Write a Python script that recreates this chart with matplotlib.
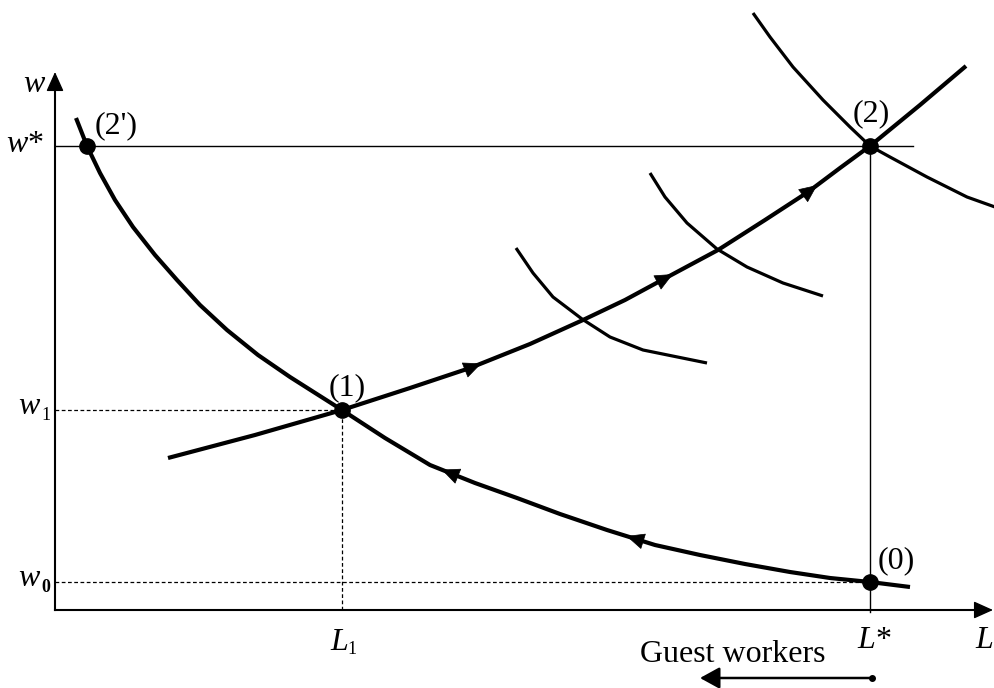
import numpy as np
import matplotlib
matplotlib.use("Agg")
from matplotlib import pyplot as plt

plt.rcParams['font.family'] = ['Liberation Serif', 'DejaVu Serif']
plt.rcParams['mathtext.fontset'] = 'custom'
plt.rcParams['mathtext.rm'] = 'Liberation Serif'
plt.rcParams['mathtext.it'] = 'Liberation Serif:italic'

# labour demand curve (0) -> (1) -> (2')
demand_L = [21, 32, 45, 60, 78, 100, 122, 145, 172, 203, 235, 287, 330, 375,
            420, 462, 505, 552, 600, 645, 690, 735, 775, 815, 855]
demand_w = [492, 464, 437, 410, 383, 355, 330, 305, 280, 255, 233, 200, 172, 145,
            127, 112, 96, 80, 65, 55, 46, 38, 32, 28, 23]
# path of equilibria (1) -> (2)
path_L = [113, 200, 287, 355, 415, 475, 528, 570, 607, 663, 710, 753, 785, 815, 865, 911]
path_w = [152, 175, 200, 222, 242, 266, 290, 310, 330, 360, 390, 418, 442, 464, 505, 544]
# shifted demand curves
shiftA_L = [461, 478, 498, 527, 555, 588, 652]
shiftA_w = [362, 337, 313, 291, 273, 260, 247]
shiftB_L = [595, 610, 632, 662, 692, 728, 768]
shiftB_w = [437, 413, 387, 361, 343, 327, 314]
shiftC_L = [698, 715, 738, 768, 795, 815, 835, 872, 912, 940]
shiftC_w = [597, 573, 543, 510, 483, 464, 453, 433, 413, 403]

L1, Lstar = 287, 815
w0, w1, wstar = 28, 200, 464
L2p = 32

path_arrows = [418, 610, 755]
demand_arrows = [395, 580]

fig = plt.figure(figsize=(9.95, 6.88), dpi=100)
ax = fig.add_axes([0, 0, 1, 1])
ax.set_xlim(-55, 940)
ax.set_ylim(-78, 610)
ax.axis('off')

def arrow(x0, y0, x1, y1, scale=12, hw=0.45, lw=1.0):
    ax.annotate('', xy=(x1, y1), xytext=(x0, y0),
                arrowprops=dict(arrowstyle='-|>,head_length=1.0,head_width=%g' % hw,
                                color='k', lw=lw, shrinkA=0, shrinkB=0,
                                mutation_scale=scale))

def curve_arrow(xs, ys, at, backwards=False):
    y = np.interp(at, xs, ys)
    y2 = np.interp(at + 1, xs, ys)
    d = np.array([1.0, y2 - y])
    d /= np.hypot(*d)
    if backwards:
        d = -d
    arrow(at - d[0] * 9, y - d[1] * 9, at + d[0] * 9, y + d[1] * 9, lw=0.5)

# axes
ax.plot([0, 0], [0, 520], color='k', lw=1.5)
arrow(0, 500, 0, 538)
ax.plot([0, 920], [0, 0], color='k', lw=1.5)
arrow(900, 0, 938, 0)

# reference lines
ax.plot([0, 858], [wstar, wstar], color='k', lw=1.0)
ax.plot([Lstar, Lstar], [-2, wstar], color='k', lw=1.0)
ax.plot([0, L1], [w1, w1], color='k', lw=0.9, ls=(0, (3, 2)))
ax.plot([L1, L1], [0, w1], color='k', lw=0.9, ls=(0, (3, 2)))
ax.plot([0, Lstar], [w0, w0], color='k', lw=0.9, ls=(0, (3, 2)))

# curves
ax.plot(demand_L, demand_w, color='k', lw=3.0, solid_capstyle='butt', solid_joinstyle='round')
ax.plot(path_L, path_w, color='k', lw=3.0, solid_capstyle='butt', solid_joinstyle='round')
for xs, ys in [(shiftA_L, shiftA_w), (shiftB_L, shiftB_w), (shiftC_L, shiftC_w)]:
    ax.plot(xs, ys, color='k', lw=2.3, solid_capstyle='butt', solid_joinstyle='round')

for a in path_arrows:
    curve_arrow(path_L, path_w, a)
for a in demand_arrows:
    curve_arrow(demand_L, demand_w, a, backwards=True)

# equilibrium points
ax.plot([L2p, Lstar, L1, Lstar], [wstar, wstar, w1, w0], 'o', color='k', ms=11)

# labels
fs = 23
sub = 13
ax.text(-20, 525, '$w$', fontsize=fs, ha='center', va='center')
ax.text(-30, 466, '$w$*', fontsize=fs, ha='center', va='center')
ax.text(-25, 203, '$w$', fontsize=fs, ha='center', va='center')
ax.text(-9, 195, '1', fontsize=sub, ha='center', va='center')
ax.text(-25, 31, '$w$', fontsize=fs, ha='center', va='center')
ax.text(-9, 23, '0', fontsize=sub, ha='center', va='center', fontweight='bold')
ax.text(284, -32, '$L$', fontsize=fs, ha='center', va='center')
ax.text(297, -39, '1', fontsize=sub, ha='center', va='center')
ax.text(Lstar + 4, -31, '$L$*', fontsize=fs, ha='center', va='center')
ax.text(929, -31, '$L$', fontsize=fs, ha='center', va='center')
ax.text(61, 484, "(2')", fontsize=fs, ha='center', va='center')
ax.text(816, 496, '(2)', fontsize=fs, ha='center', va='center')
ax.text(292, 222, '(1)', fontsize=fs, ha='center', va='center')
ax.text(841, 49, '(0)', fontsize=fs, ha='center', va='center')
ax.text(678, -45, 'Guest workers', fontsize=fs, ha='center', va='center')

# guest workers arrow
ax.plot([Lstar + 2], [-68], 'o', color='k', ms=4)
arrow(Lstar + 2, -68, 645, -68, lw=1.8, hw=0.55)

fig.savefig('out.png', dpi=100)
